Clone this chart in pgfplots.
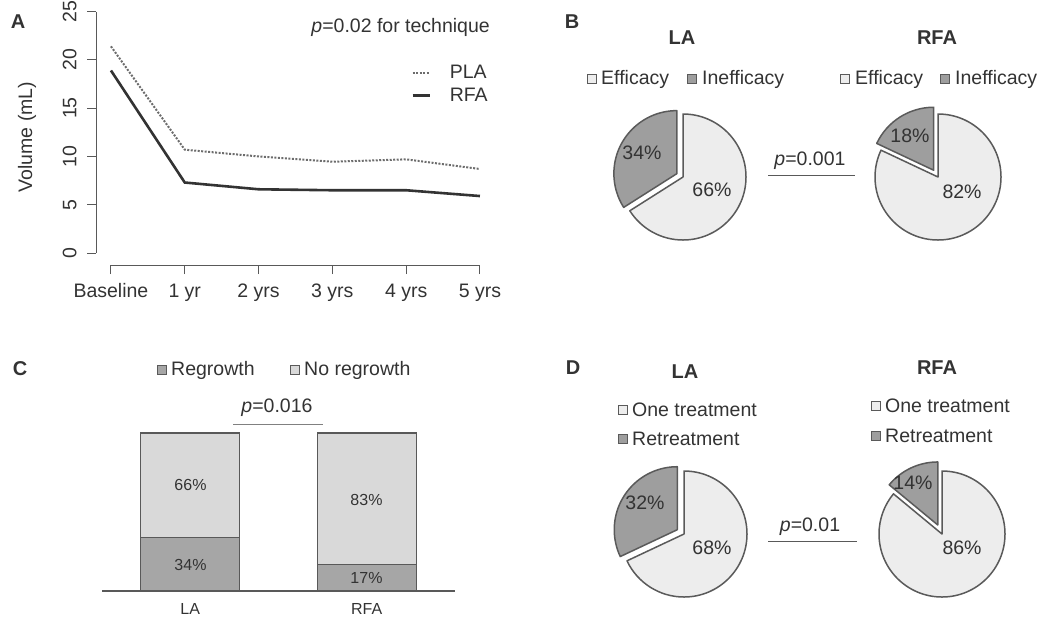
\documentclass[border=0pt]{standalone}
\usepackage{pgfplots}
\pgfplotsset{compat=1.18}
\usepackage{fontspec}
\setmainfont{Liberation Sans}

\definecolor{ink}{HTML}{333333}
\definecolor{axisgray}{HTML}{595959}
\definecolor{pielight}{HTML}{EDEDED}
\definecolor{piedark}{HTML}{9E9E9E}
\definecolor{pieedge}{HTML}{5A5A5A}
\definecolor{barlight}{HTML}{D9D9D9}
\definecolor{bardark}{HTML}{A6A6A6}

\newcommand\bigfont{\fontsize{19.5}{23}\selectfont}
\newcommand\smallfont{\fontsize{16}{19}\selectfont}
\newcommand\letterfont{\fontsize{20}{24}\selectfont\bfseries}

% pie: centre x, centre y, radius (pt), share of dark slice (%), explode distance (pt)
\newcommand\pie[5]{%
  \filldraw[fill=pielight, draw=pieedge, line width=1.5pt, line join=round]
    (#1,#2) -- ++(90:#3pt) arc[start angle=90, end angle={90-3.6*(100-#4)}, radius=#3pt] -- cycle;
  \filldraw[fill=piedark, draw=pieedge, line width=1.5pt, line join=round, shift={({90+1.8*#4}:#5pt)}]
    (#1,#2) -- ++(90:#3pt) arc[start angle=90, end angle={90+3.6*#4}, radius=#3pt] -- cycle;
}
% legend swatch
\newcommand\swatch[3]{\node[draw=pieedge, fill=#3, line width=1pt, minimum size=9pt, inner sep=0pt] at (#1,#2) {};}

\begin{document}
\begin{tikzpicture}
\useasboundingbox (0pt,0pt) rectangle (1043pt,-621pt);

% ---------- A: volume over time ----------
\begin{axis}[
  at={(96.2pt,-265.1pt)}, anchor=south west,
  scale only axis, width=398.5pt, height=263.2pt,
  xmin=-0.2, xmax=5.2, ymin=-1.25, ymax=26,
  axis lines=left, axis line style={draw=none},
  tick align=outside, major tick length=9pt,
  tick style={axisgray, line width=1pt},
  xtick={0,...,5}, xticklabels={Baseline,1 yr,2 yrs,3 yrs,4 yrs,5 yrs},
  ytick={0,5,...,25},
  yticklabel style={rotate=90, anchor=south},
  yticklabel shift=7pt, xticklabel shift=6pt,
  ticklabel style={font=\bigfont, text=ink},
  /pgf/number format/assume math mode=true,
  clip=false,
  legend style={at={(0.988,0.768)}, anchor=north east, draw=none, fill=none,
    font=\bigfont, text=ink, cells={anchor=west}, row sep=4pt, inner sep=0pt},
  legend image code/.code={\draw[#1] (0pt,0pt) -- (17pt,0pt); \path (0pt,0pt) (34pt,0pt);},
]
\draw[axisgray, line width=1pt] (-0.2,0) -- (-0.2,25);
\draw[axisgray, line width=1pt] (0,-1.25) -- (5,-1.25);
\addplot[gray!85!black, line width=2pt, dash pattern=on 2pt off 1.5pt]
  coordinates {(0,21.4) (1,10.7) (2,10.0) (3,9.45) (4,9.7) (5,8.7)};
\addplot[black!80, line width=2.6pt]
  coordinates {(0,18.9) (1,7.3) (2,6.6) (3,6.5) (4,6.5) (5,5.9)};
\legend{PLA, RFA}
\end{axis}

% ---------- C: regrowth ----------
\begin{axis}[
  at={(102pt,-591pt)}, anchor=south west,
  scale only axis, width=353pt, height=158pt,
  xmin=-0.5, xmax=1.5, ymin=0, ymax=100, enlargelimits=false,
  ybar stacked, bar width=99pt,
  axis x line*=bottom, axis y line=none,
  x axis line style={axisgray, line width=1.2pt},
  xtick={0,1}, xticklabels={LA,RFA}, major tick length=0pt,
  xticklabel style={font=\smallfont, text=ink}, xticklabel shift=9pt,
  clip=false,
]
\addplot[fill=bardark, draw=axisgray, line width=1.2pt] coordinates {(0,34) (1,17)};
\addplot[fill=barlight, draw=axisgray, line width=1.2pt] coordinates {(0,66) (1,83)};
\end{axis}

% ---------- panel letters, pies and annotations ----------
\begin{axis}[
  at={(0pt,0pt)}, anchor=north west,
  scale only axis, width=1043pt, height=621pt,
  xmin=0, xmax=1043, ymin=0, ymax=621, y dir=reverse,
  hide axis, clip=false,
]
% letters
\node[font=\letterfont, text=ink, inner sep=0pt] at (18,22) {A};
\node[font=\letterfont, text=ink, inner sep=0pt] at (572,22) {B};
\node[font=\letterfont, text=ink, inner sep=0pt] at (20,369) {C};
\node[font=\letterfont, text=ink, inner sep=0pt] at (573,368) {D};

% A annotations
\node[font=\bigfont, text=ink, rotate=90, inner sep=0pt] at (27,137) {Volume (mL)};
\node[font=\bigfont, text=ink, anchor=east, inner sep=0pt] at (490,27) {\textit{p}=0.02 for technique};

% B
\node[font=\fontsize{20}{24}\selectfont\bfseries, text=ink, inner sep=0pt] at (682,38) {LA};
\node[font=\fontsize{20}{24}\selectfont\bfseries, text=ink, inner sep=0pt] at (937,38) {RFA};
\swatch{592}{79}{pielight}
\node[font=\bigfont, text=ink, anchor=west, inner sep=0pt] at (601,79) {Efficacy};
\swatch{692}{79}{piedark}
\node[font=\bigfont, text=ink, anchor=west, inner sep=0pt] at (702,79) {Inefficacy};
\swatch{845}{79}{pielight}
\node[font=\bigfont, text=ink, anchor=west, inner sep=0pt] at (855,79) {Efficacy};
\swatch{945}{79}{piedark}
\node[font=\bigfont, text=ink, anchor=west, inner sep=0pt] at (955,79) {Inefficacy};
\pie{683}{177}{63}{34}{7}
\pie{938}{177}{63}{18}{8}
\node[font=\bigfont, text=ink, inner sep=0pt] at (642,153) {34\%};
\node[font=\bigfont, text=ink, inner sep=0pt] at (712,190) {66\%};
\node[font=\bigfont, text=ink, inner sep=0pt] at (910,136) {18\%};
\node[font=\bigfont, text=ink, inner sep=0pt] at (962,192) {82\%};
\node[font=\bigfont, text=ink, inner sep=0pt] at (810,161) {\textit{p}=0.001};
\draw[axisgray, line width=1pt] (768,175) -- (855,175);

% C annotations
\swatch{162}{370}{bardark}
\node[font=\bigfont, text=ink, anchor=west, inner sep=0pt] at (171,370) {Regrowth};
\swatch{295}{370}{barlight}
\node[font=\bigfont, text=ink, anchor=west, inner sep=0pt] at (304,370) {No regrowth};
\node[font=\bigfont, text=ink, inner sep=0pt] at (277,408) {\textit{p}=0.016};
\draw[gray, line width=1pt] (233,424) -- (323,424);
\node[font=\smallfont, text=ink, inner sep=0pt] at (190.5,565) {34\%};
\node[font=\smallfont, text=ink, inner sep=0pt] at (190.5,485) {66\%};
\node[font=\smallfont, text=ink, inner sep=0pt] at (366.5,578) {17\%};
\node[font=\smallfont, text=ink, inner sep=0pt] at (366.5,500) {83\%};

% D
\node[font=\fontsize{20}{24}\selectfont\bfseries, text=ink, inner sep=0pt] at (685,372) {LA};
\node[font=\fontsize{20}{24}\selectfont\bfseries, text=ink, inner sep=0pt] at (937,368) {RFA};
\swatch{623}{410}{pielight}
\node[font=\bigfont, text=ink, anchor=west, inner sep=0pt] at (632,410) {One treatment};
\swatch{623}{439}{piedark}
\node[font=\bigfont, text=ink, anchor=west, inner sep=0pt] at (632,439) {Retreatment};
\swatch{876}{406}{pielight}
\node[font=\bigfont, text=ink, anchor=west, inner sep=0pt] at (885,406) {One treatment};
\swatch{876}{436}{piedark}
\node[font=\bigfont, text=ink, anchor=west, inner sep=0pt] at (885,436) {Retreatment};
\pie{684}{534}{63}{32}{8}
\pie{942}{534}{63}{14}{10}
\node[font=\bigfont, text=ink, inner sep=0pt] at (645,503) {32\%};
\node[font=\bigfont, text=ink, inner sep=0pt] at (712,548) {68\%};
\node[font=\bigfont, text=ink, inner sep=0pt] at (913,483) {14\%};
\node[font=\bigfont, text=ink, inner sep=0pt] at (962,548) {86\%};
\node[font=\bigfont, text=ink, inner sep=0pt] at (810,527) {\textit{p}=0.01};
\draw[axisgray, line width=1pt] (768,541) -- (857,541);
\end{axis}
\end{tikzpicture}
\end{document}
